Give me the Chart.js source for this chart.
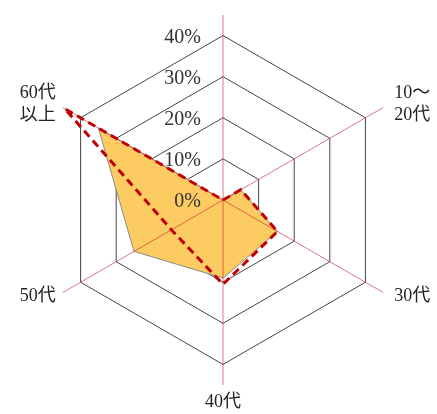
<!DOCTYPE html>
<html>
<head>
<meta charset="utf-8">
<script src="https://cdn.jsdelivr.net/npm/chart.js@4"></script>
<style>
  html, body { margin: 0; padding: 0; background: #fff; }
  #wrap { width: 437px; height: 414px; position: relative; }
</style>
</head>
<body>
<div id="wrap"><canvas id="myChart"></canvas></div>
<script>
// axis labels, clockwise from the top (top axis has no label)
const axisLabels = ["", ["10～", "20代"], "30代", "40代", "50代", ["60代", "以上"]];
const areaValues = [0, 5, 15.3, 19, 25, 35];
const dashedValues = [0, 5, 15.3, 20.5, 14.5, 44.5];
const tickValues = [0, 10, 20, 30, 40];
const scaleMax = 45;

const ctx = document.getElementById("myChart").getContext("2d");

// red axis lines, drawn over the filled area but under the dashed line
const axisLinePlugin = {
  id: "axisLines",
  afterDatasetDraw(chart, args) {
    if (args.index !== 1) return;
    const scale = chart.scales.r;
    const c = chart.ctx;
    c.save();
    c.strokeStyle = "rgba(200,30,50,0.6)";
    c.lineWidth = 1;
    axisLabels.forEach((label, i) => {
      const p = scale.getPointPosition(i, scale.drawingArea);
      c.beginPath();
      c.moveTo(scale.xCenter, scale.yCenter);
      c.lineTo(p.x, p.y);
      c.stroke();
    });
    c.restore();
  },
};

// percent labels to the left of the vertical axis
const tickLabelPlugin = {
  id: "tickLabels",
  afterDatasetsDraw(chart) {
    const scale = chart.scales.r;
    const c = chart.ctx;
    c.save();
    c.font = '20px "Liberation Serif", serif';
    c.fillStyle = "#333";
    c.textAlign = "right";
    c.textBaseline = "middle";
    tickValues.forEach((v) => {
      const d = scale.getDistanceFromCenterForValue(v);
      c.fillText(v + "%", scale.xCenter - 22, scale.yCenter - d + 2);
    });
    c.restore();
  },
};

// category labels just past the end of each axis line
const pointLabelPlugin = {
  id: "axisNames",
  afterDraw(chart) {
    const scale = chart.scales.r;
    const c = chart.ctx;
    c.save();
    c.font = '18px "Liberation Serif", "Noto Sans CJK JP", serif';
    c.fillStyle = "#222";
    c.textBaseline = "middle";
    axisLabels.forEach((label, i) => {
      if (!label) return;
      const lines = Array.isArray(label) ? label : [label];
      const p = scale.getPointPosition(i, scale.drawingArea);
      const dx = p.x - scale.xCenter;
      const dy = p.y - scale.yCenter;
      let x = p.x;
      let y = p.y;
      if (Math.abs(dx) < 1) {
        c.textAlign = "center";
        y += 17;
      } else if (dx > 0) {
        c.textAlign = "left";
        x += 11;
        y += Math.sign(dy) * 3.5;
      } else {
        c.textAlign = "right";
        x -= 7;
        y += Math.sign(dy) * 3.5;
      }
      lines.forEach((t, k) => {
        c.fillText(t, x, y + (k - (lines.length - 1) / 2) * 22);
      });
    });
    c.restore();
  },
};

new Chart(ctx, {
  type: "radar",
  data: {
    labels: axisLabels,
    datasets: [
      {
        label: "dashed",
        data: dashedValues,
        borderColor: "#C00000",
        borderWidth: 3,
        borderDash: [8, 5],
        borderJoinStyle: "miter",
        backgroundColor: "transparent",
        fill: false,
        pointRadius: 0,
      },
      {
        label: "area",
        data: areaValues,
        borderColor: "#8a8a8a",
        borderWidth: 1,
        backgroundColor: "#FCCB62",
        fill: true,
        pointRadius: 0,
      },
    ],
  },
  options: {
    responsive: true,
    maintainAspectRatio: false,
    animation: false,
    layout: { padding: { left: 38, right: 29, top: 15, bottom: 29 } },
    plugins: {
      legend: { display: false },
      tooltip: { enabled: false },
    },
    scales: {
      r: {
        min: 0,
        max: scaleMax,
        ticks: { display: false, stepSize: 10 },
        afterBuildTicks(scale) {
          scale.ticks = scale.ticks.filter((t) => t.value <= 40);
        },
        grid: { color: "#444", lineWidth: 1 },
        angleLines: { display: false },
        pointLabels: { display: false },
      },
    },
  },
  plugins: [axisLinePlugin, tickLabelPlugin, pointLabelPlugin],
});
</script>
</body>
</html>
